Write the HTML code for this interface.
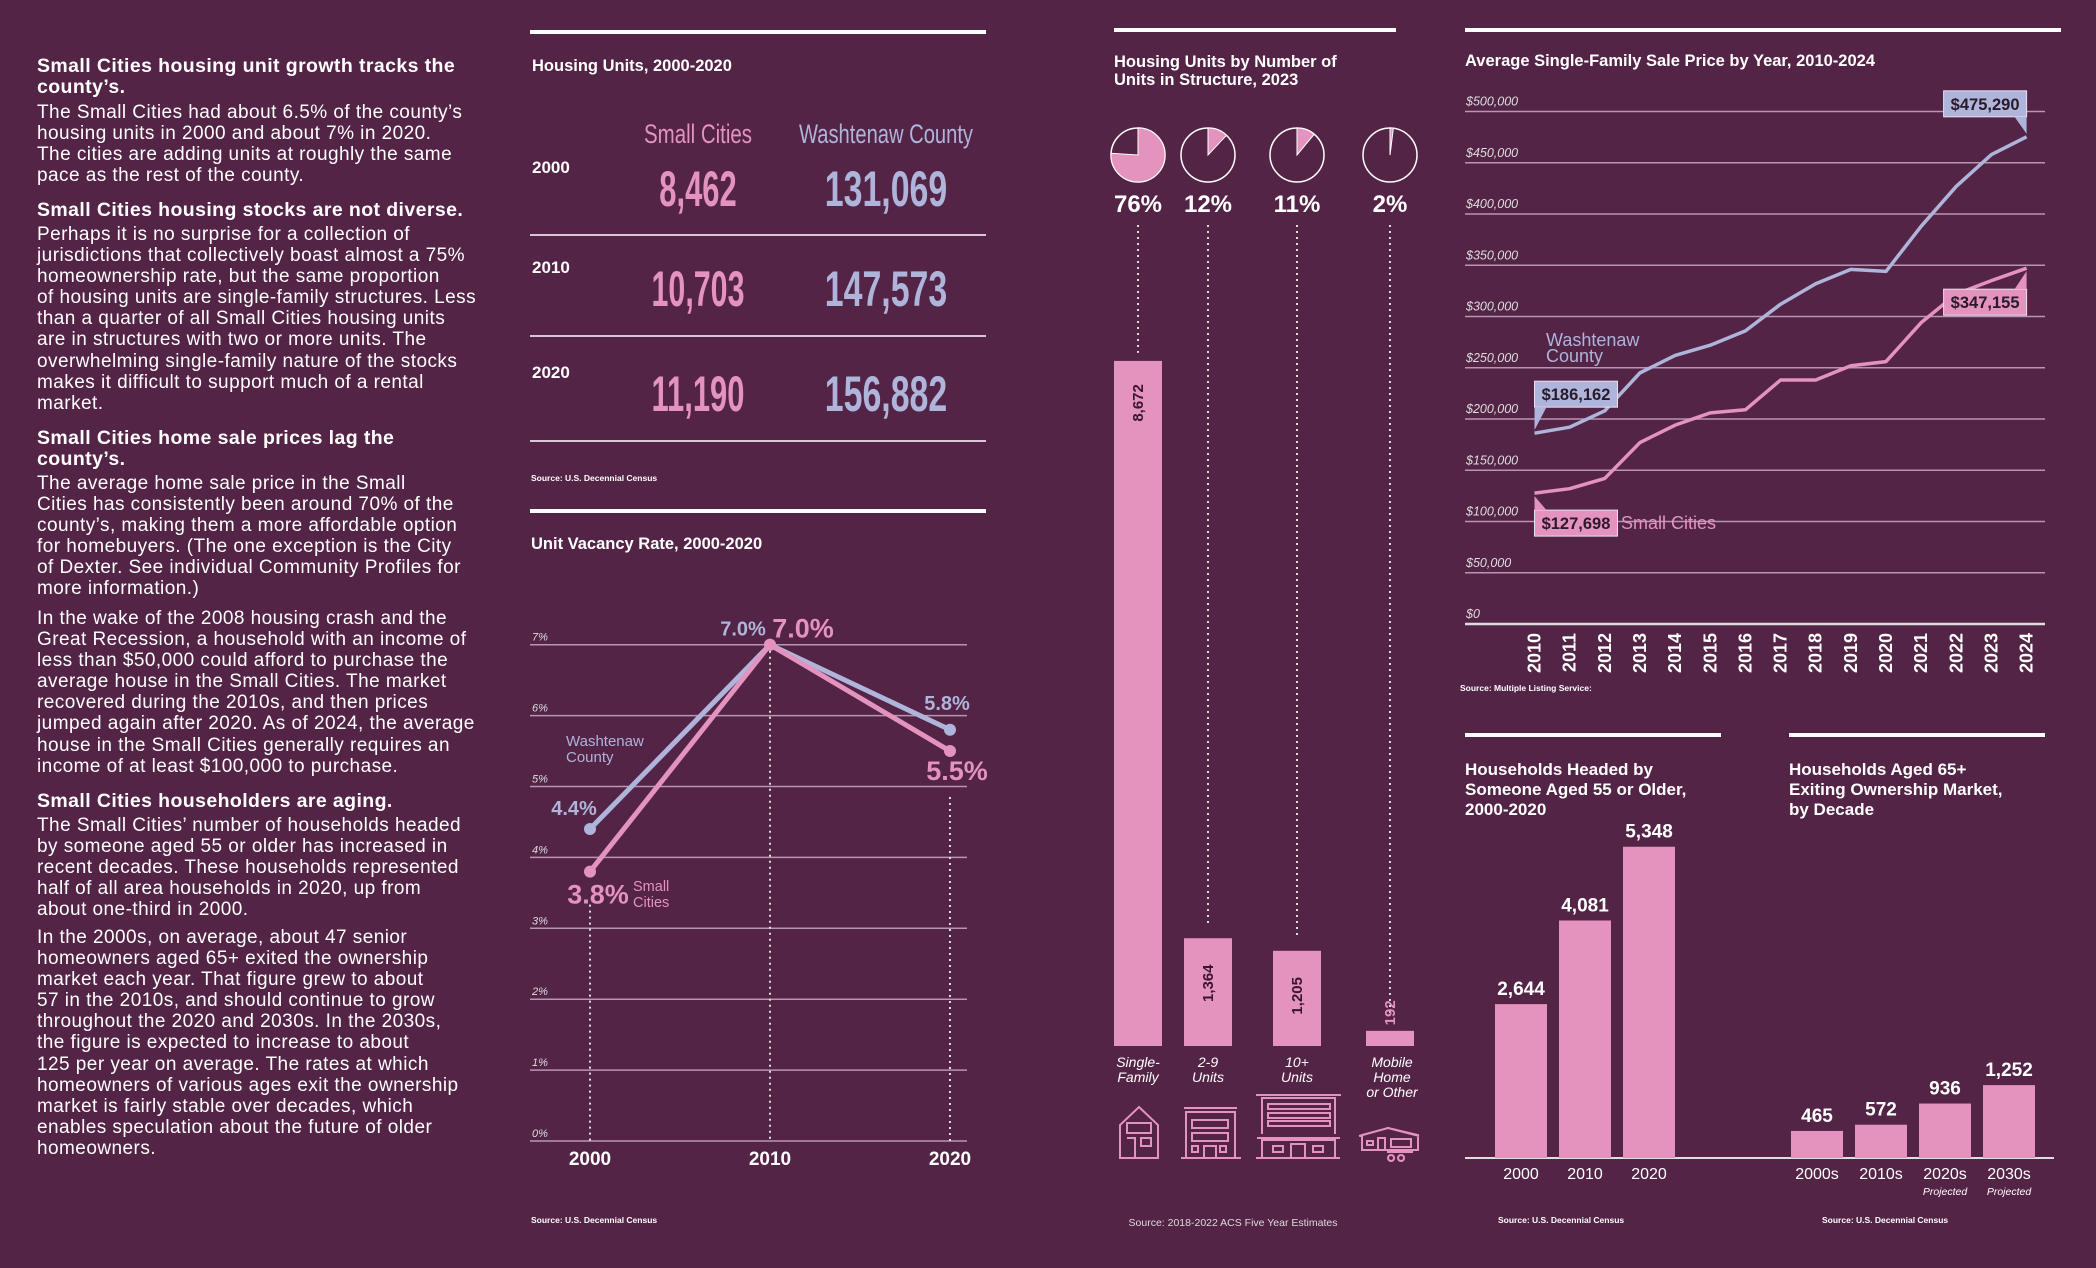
<!DOCTYPE html>
<html><head><meta charset="utf-8">
<style>
html,body{margin:0;padding:0;background:#532446;}
#page{position:relative;width:2096px;height:1268px;overflow:hidden;background:#532446;font-family:"Liberation Sans",sans-serif;color:#fff;}
.blk{position:absolute;left:37px;font-size:19px;letter-spacing:0.45px;line-height:21.1px;color:#fff;white-space:nowrap;}
.h{font-weight:bold;font-size:19.5px;letter-spacing:0.4px;}
svg{position:absolute;left:0;top:0;}
</style></head>
<body>
<div id="page">
<div class="blk h" style="top:56px">Small Cities housing unit growth tracks the<br>county’s.</div>
<div class="blk" style="top:102px">The Small Cities had about 6.5% of the county’s<br>housing units in 2000 and about 7% in 2020.<br>The cities are adding units at roughly the same<br>pace as the rest of the county.</div>
<div class="blk h" style="top:200px">Small Cities housing stocks are not diverse.</div>
<div class="blk" style="top:224px">Perhaps it is no surprise for a collection of<br>jurisdictions that collectively boast almost a 75%<br>homeownership rate, but the same proportion<br>of housing units are single-family structures. Less<br>than a quarter of all Small Cities housing units<br>are in structures with two or more units. The<br>overwhelming single-family nature of the stocks<br>makes it difficult to support much of a rental<br>market.</div>
<div class="blk h" style="top:428px">Small Cities home sale prices lag the<br>county’s.</div>
<div class="blk" style="top:473px">The average home sale price in the Small<br>Cities has consistently been around 70% of the<br>county’s, making them a more affordable option<br>for homebuyers. (The one exception is the City<br>of Dexter. See individual Community Profiles for<br>more information.)</div>
<div class="blk" style="top:608px">In the wake of the 2008 housing crash and the<br>Great Recession, a household with an income of<br>less than $50,000 could afford to purchase the<br>average house in the Small Cities. The market<br>recovered during the 2010s, and then prices<br>jumped again after 2020. As of 2024, the average<br>house in the Small Cities generally requires an<br>income of at least $100,000 to purchase.</div>
<div class="blk h" style="top:791px">Small Cities householders are aging.</div>
<div class="blk" style="top:815px">The Small Cities’ number of households headed<br>by someone aged 55 or older has increased in<br>recent decades. These households represented<br>half of all area households in 2020, up from<br>about one-third in 2000.</div>
<div class="blk" style="top:927px">In the 2000s, on average, about 47 senior<br>homeowners aged 65+ exited the ownership<br>market each year. That figure grew to about<br>57 in the 2010s, and should continue to grow<br>throughout the 2020 and 2030s. In the 2030s,<br>the figure is expected to increase to about<br>125 per year on average. The rates at which<br>homeowners of various ages exit the ownership<br>market is fairly stable over decades, which<br>enables speculation about the future of older<br>homeowners.</div>
<svg id="charts" width="2096" height="1268" xmlns="http://www.w3.org/2000/svg"></svg>
</div>
<script>
// ---- data ----
const unitYears=['2000','2010','2020'];
const unitSmall=['8,462','10,703','11,190'];
const unitWash=['131,069','147,573','156,882'];
const vacYears=['2000','2010','2020'];
const vacWash=[4.4,7.0,5.8];
const vacSmall=[3.8,7.0,5.5];
const vacTicks=[0,1,2,3,4,5,6,7];
const structCats=[['Single-','Family'],['2-9','Units'],['10+','Units'],['Mobile','Home','or Other']];
const structValues=[8672,1364,1205,192];
const structPct=[76,12,11,2];
const priceYears=[2010,2011,2012,2013,2014,2015,2016,2017,2018,2019,2020,2021,2022,2023,2024];
const priceWash=[186162,192000,208000,245000,262000,272000,286000,312000,332000,346000,344000,388000,427000,458000,475290];
const priceSmall=[127698,132000,142000,177000,194000,206000,209000,238000,238000,252000,256000,294000,322000,335000,347155];
const priceTicks=[0,50000,100000,150000,200000,250000,300000,350000,400000,450000,500000];
const ageYears=['2000','2010','2020'];
const ageValues=[2644,4081,5348];
const exitDecades=['2000s','2010s','2020s','2030s'];
const exitValues=[465,572,936,1252];
const exitNotes=['','','Projected','Projected'];

const NS='http://www.w3.org/2000/svg';
const svg=document.getElementById('charts');
const PINK='#e393bd', LAV='#aeb4da', GRID='#b895b4', DARK='#3a1530';
const NARROW='Liberation Sans Narrow, Liberation Sans, sans-serif';
function mk(tag,attrs,parent){const e=document.createElementNS(NS,tag);for(const k in attrs)e.setAttribute(k,attrs[k]);(parent||svg).appendChild(e);return e;}
function tx(x,y,s,attrs,parent){const e=mk('text',Object.assign({x:x,y:y,fill:'#fff','font-family':'Liberation Sans, sans-serif'},attrs||{}),parent);e.textContent=s;return e;}
function fmt(v){return v.toLocaleString('en-US');}

let e;
// ---------- Housing units table ----------
e=mk('rect',{x:530,y:30,width:456,height:4,fill:'#fff'});


e=tx(532,71,'Housing Units, 2000-2020',{'font-size':16.5,'font-weight':'bold'});


e=tx(698,143,'Small Cities',{'font-size':27,'text-anchor':'middle',fill:PINK,'font-family':NARROW,textLength:108,lengthAdjust:'spacingAndGlyphs'});


e=tx(886,143,'Washtenaw County',{'font-size':27,'text-anchor':'middle',fill:LAV,'font-family':NARROW,textLength:174,lengthAdjust:'spacingAndGlyphs'});


const rowY=[187,287,392];
unitYears.forEach((y,i)=>{
  e=tx(532,rowY[i]-14,y,{'font-size':17,'font-weight':'bold'});
  
  
  const w1=unitSmall[i].length*15.5, w2=unitWash[i].length*17.5;
  e=tx(698,rowY[i]+19,unitSmall[i],{'font-size':50,'font-weight':'bold','text-anchor':'middle',fill:PINK,'font-family':NARROW,textLength:w1,lengthAdjust:'spacingAndGlyphs'});
  
  
  e=tx(886,rowY[i]+19,unitWash[i],{'font-size':50,'font-weight':'bold','text-anchor':'middle',fill:LAV,'font-family':NARROW,textLength:w2,lengthAdjust:'spacingAndGlyphs'});
  
  
  e=mk('rect',{x:530,y:[234,335,440][i],width:456,height:2,fill:'#d9c6d6'});
  
  
});
e=tx(531,481,'Source: U.S. Decennial Census',{'font-size':8.5,'font-weight':'bold'});



// ---------- Vacancy chart ----------
e=mk('rect',{x:530,y:509,width:456,height:4,fill:'#fff'});


e=tx(531,549,'Unit Vacancy Rate, 2000-2020',{'font-size':16.5,'font-weight':'bold'});


const vx=i=>590+i*180, vy=v=>1141-v*70.9;
vacTicks.forEach(t=>{
  e=mk('line',{x1:530,x2:967,y1:vy(t),y2:vy(t),stroke:GRID,'stroke-width':1.5});
  
  
  e=tx(532,vy(t)-4,t+'%',{'font-size':11,'font-style':'italic',fill:'#ddd'});
  
  
});
const dropOffset=[33,0,46];
vacYears.forEach((y,i)=>{
  e=mk('line',{x1:vx(i),x2:vx(i),y1:vy(vacSmall[i])+dropOffset[i],y2:1141,stroke:'#ddd','stroke-width':2,'stroke-dasharray':'2 4'});
  
  
  e=tx(vx(i),1165,y,{'font-size':19,'font-weight':'bold','text-anchor':'middle'});
  
  
});
[[vacWash,LAV,'washtenaw'],[vacSmall,PINK,'small-cities']].forEach(([arr,c,n])=>{
  e=mk('polyline',{points:arr.map((v,i)=>vx(i)+','+vy(v)).join(' '),fill:'none',stroke:c,'stroke-width':5,'stroke-linejoin':'round'});
  
  
  arr.forEach((v,i)=>{
    e=mk('circle',{cx:vx(i),cy:vy(v),r:6,fill:c});
    
    
  });
});
const lblW={'font-family':NARROW,'font-weight':'bold'};
e=tx(vx(0)-16,vy(vacWash[0])-14,vacWash[0].toFixed(1)+'%',Object.assign({'font-size':20,fill:LAV,'text-anchor':'middle'},lblW));


e=tx(vx(0)+8,vy(vacSmall[0])+32,vacSmall[0].toFixed(1)+'%',Object.assign({'font-size':27,fill:PINK,'text-anchor':'middle'},lblW));


e=tx(vx(1)-27,vy(vacWash[1])-9,vacWash[1].toFixed(1)+'%',Object.assign({'font-size':20,fill:LAV,'text-anchor':'middle'},lblW));


e=tx(vx(1)+33,vy(vacSmall[1])-7,vacSmall[1].toFixed(1)+'%',Object.assign({'font-size':27,fill:PINK,'text-anchor':'middle'},lblW));


e=tx(vx(2)-3,vy(vacWash[2])-20,vacWash[2].toFixed(1)+'%',Object.assign({'font-size':20,fill:LAV,'text-anchor':'middle'},lblW));


e=tx(vx(2)+7,vy(vacSmall[2])+29,vacSmall[2].toFixed(1)+'%',Object.assign({'font-size':27,fill:PINK,'text-anchor':'middle'},lblW));


e=tx(566,746,'Washtenaw',{'font-size':15,fill:LAV});


e=tx(566,762,'County',{'font-size':15,fill:LAV});


e=tx(633,891,'Small',{'font-size':14.5,fill:PINK});


e=tx(633,907,'Cities',{'font-size':14.5,fill:PINK});


e=tx(531,1223,'Source: U.S. Decennial Census',{'font-size':8.5,'font-weight':'bold'});



// ---------- Units in structure ----------
e=mk('rect',{x:1114,y:28,width:282,height:4,fill:'#fff'});


e=tx(1114,67,'Housing Units by Number of',{'font-size':16.5,'font-weight':'bold'});


e=tx(1114,85,'Units in Structure, 2023',{'font-size':16.5,'font-weight':'bold'});


const structX=[1138,1208,1297,1390];
const by=v=>1046-v*0.079;
structValues.forEach((v,i)=>{
  const cx=structX[i], cy=155, r=27;
  e=mk('circle',{cx:cx,cy:cy,r:r,fill:'none',stroke:'#fff','stroke-width':1.5});
  
  
  const a=structPct[i]/100*2*Math.PI;
  const ex=cx+r*Math.sin(a), ey=cy-r*Math.cos(a);
  e=mk('path',{d:`M${cx},${cy} L${cx},${cy-r} A${r},${r} 0 ${a>Math.PI?1:0} 1 ${ex},${ey} Z`,fill:PINK,stroke:'#fff','stroke-width':1});
  
  
  e=tx(cx,212,structPct[i]+'%',{'font-size':24,'text-anchor':'middle','font-family':NARROW,'font-weight':'bold'});
  
  
  e=mk('line',{x1:cx,x2:cx,y1:225,y2:by(v)-(i===0?8:14),stroke:'#ddd','stroke-width':2,'stroke-dasharray':'2 4'});
  
  
  e=mk('rect',{x:cx-24,y:by(v),width:48,height:1046-by(v),fill:PINK});
  
  
  const ly=i===3?by(v)-18:by(v)+(i===0?42:45);
  e=tx(0,0,fmt(v),{'font-size':15,'font-weight':'bold','text-anchor':'middle',fill:i===3?PINK:DARK,transform:`translate(${cx+5},${ly}) rotate(-90)`});
  
  
  structCats[i].forEach((s,k)=>{
    e=tx(cx+(i===3?2:0),1067+k*15,s,{'font-size':14,'font-style':'italic','text-anchor':'middle'});
    
    
  });
});
const ic=mk('g',{fill:'none',stroke:PINK,'stroke-width':2});


mk('path',{d:'M1120,1158 V1125 L1139,1107 L1158,1125 V1158 Z M1127,1123 h24 v10 h-24 Z M1127,1138 h8 v20 M1141,1138 h10 v8 h-10 Z'},ic);
mk('path',{d:'M1181,1158 H1241 M1186,1158 V1112 H1235 V1158 M1184,1108 H1237 M1192,1120 h36 v8 h-36 Z M1192,1133 h36 v8 h-36 Z M1192,1146 h6 v6 h-6 Z M1204,1158 v-12 h12 v12 Z M1220,1146 h6 v6 h-6 Z'},ic);
mk('path',{d:'M1256,1158 H1340 M1262,1158 V1140 H1335 V1158 M1257,1138 H1340 M1262,1134 V1098 H1335 V1134 M1256,1095 H1341 M1268,1104 h62 v5 h-62 Z M1268,1113 h62 v5 h-62 Z M1268,1121 h62 v5 h-62 Z M1273,1146 h10 v6 h-10 Z M1291,1158 v-14 h14 v14 M1313,1146 h10 v6 h-10 Z'},ic);
mk('path',{d:'M1362,1150 V1135 L1388,1128 L1418,1135 V1150 Z M1359,1136 L1388,1128 L1419,1136 M1367,1141 h6 v4 h-6 Z M1378,1150 v-12 h7 v12 M1391,1139 h20 v8 h-20 Z M1387,1152 h26 M1391,1155 a3,3 0 1,0 0.1,0 M1401,1155 a3,3 0 1,0 0.1,0'},ic);
e=tx(1233,1226,'Source: 2018-2022 ACS Five Year Estimates',{'font-size':10.5,'text-anchor':'middle',fill:'#ddd'});



// ---------- Price chart ----------
e=mk('rect',{x:1465,y:28,width:596,height:4,fill:'#fff'});


e=tx(1465,66,'Average Single-Family Sale Price by Year, 2010-2024',{'font-size':16.5,'font-weight':'bold'});


const px=i=>1534.5+i*35.15, py=v=>624-v*0.001025;
priceTicks.forEach(t=>{
  e=mk('line',{x1:1465,x2:2045,y1:py(t),y2:py(t),stroke:t===0?'#ddd':GRID,'stroke-width':t===0?2.5:1.5});
  
  
  e=tx(1466,py(t)-6,'$'+fmt(t),{'font-size':12.5,'font-style':'italic',fill:'#ddd'});
  
  
});
priceYears.forEach((y,i)=>{
  e=tx(0,0,String(y),{'font-size':18,'font-weight':'bold','font-family':NARROW,'text-anchor':'end',transform:`translate(${px(i)+6},${633}) rotate(-90)`});
  
  
});
[[priceWash,LAV,'washtenaw'],[priceSmall,PINK,'small-cities']].forEach(([arr,c,n])=>{
  e=mk('polyline',{points:arr.map((v,i)=>px(i)+','+py(v)).join(' '),fill:'none',stroke:c,'stroke-width':3.5,'stroke-linejoin':'round'});
  
  
});
function callout(i,v,c,dy,name,anchorRight){
  const w=83,h=26;
  const pX=px(i), pY=py(v);
  const x0=anchorRight?pX-w:pX, y0=pY+dy;
  const g=mk('g',{});
  
  
  mk('rect',{x:x0,y:y0,width:w,height:h,fill:c,stroke:'#e8e0ee','stroke-width':1},g);
  const tx0=anchorRight?pX-12:pX+12, tx1=anchorRight?pX:pX;
  if(dy<0) mk('path',{d:`M${tx0},${y0+h} L${pX},${pY-3} L${tx1},${y0+h} Z`,fill:c},g);
  else mk('path',{d:`M${tx0},${y0} L${pX},${pY+3} L${tx1},${y0} Z`,fill:c},g);
  tx(x0+w/2,y0+19,'$'+fmt(v),{'font-size':16.5,'font-weight':'bold','text-anchor':'middle',fill:'#2a1a2a'},g);
}
callout(0,priceWash[0],LAV,-52,'price-callout-washtenaw-2010',false);
callout(priceYears.length-1,priceWash[priceWash.length-1],LAV,-46,'price-callout-washtenaw-2024',true);
callout(0,priceSmall[0],PINK,17,'price-callout-small-2010',false);
callout(priceYears.length-1,priceSmall[priceSmall.length-1],PINK,21,'price-callout-small-2024',true);
e=tx(1546,346,'Washtenaw',{'font-size':18,fill:LAV});


e=tx(1546,362,'County',{'font-size':18,fill:LAV});


e=tx(1621,529,'Small Cities',{'font-size':18,fill:PINK});


e=tx(1460,691,'Source: Multiple Listing Service:',{'font-size':8.5,'font-weight':'bold'});



// ---------- Aged 55+ and exiting ----------
const base=1158, bs=0.0582;
e=mk('rect',{x:1465,y:733,width:256,height:4,fill:'#fff'});


e=mk('rect',{x:1789,y:733,width:256,height:4,fill:'#fff'});


['Households Headed  by','Someone Aged 55 or Older,','2000-2020'].forEach((s,k)=>{
  e=tx(1465,775+k*20,s,{'font-size':17,'font-weight':'bold'});
  
  
});
['Households Aged 65+','Exiting Ownership Market,','by Decade'].forEach((s,k)=>{
  e=tx(1789,775+k*20,s,{'font-size':17,'font-weight':'bold'});
  
  
});
e=mk('line',{x1:1465,x2:2054,y1:base,y2:base,stroke:'#ddd','stroke-width':2});


ageValues.forEach((v,i)=>{
  const x=1495+i*64;
  e=mk('rect',{x:x,y:base-v*bs,width:52,height:v*bs,fill:PINK});
  
  
  e=tx(x+26,base-v*bs-9,fmt(v),{'font-size':19,'font-weight':'bold','text-anchor':'middle'});
  
  
  e=tx(x+26,1179,ageYears[i],{'font-size':16,'text-anchor':'middle'});
  
  
});
exitValues.forEach((v,i)=>{
  const x=1791+i*64;
  e=mk('rect',{x:x,y:base-v*bs,width:52,height:v*bs,fill:PINK});
  
  
  e=tx(x+26,base-v*bs-9,fmt(v),{'font-size':19,'font-weight':'bold','text-anchor':'middle'});
  
  
  e=tx(x+26,1179,exitDecades[i],{'font-size':16,'text-anchor':'middle'});
  
  
  if(exitNotes[i]){
    e=tx(x+26,1195,exitNotes[i],{'font-size':10.5,'font-style':'italic','text-anchor':'middle'});
    
    
  }
});
e=tx(1498,1223,'Source: U.S. Decennial Census',{'font-size':8.5,'font-weight':'bold'});


e=tx(1822,1223,'Source: U.S. Decennial Census',{'font-size':8.5,'font-weight':'bold'});


</script>
</body></html>
